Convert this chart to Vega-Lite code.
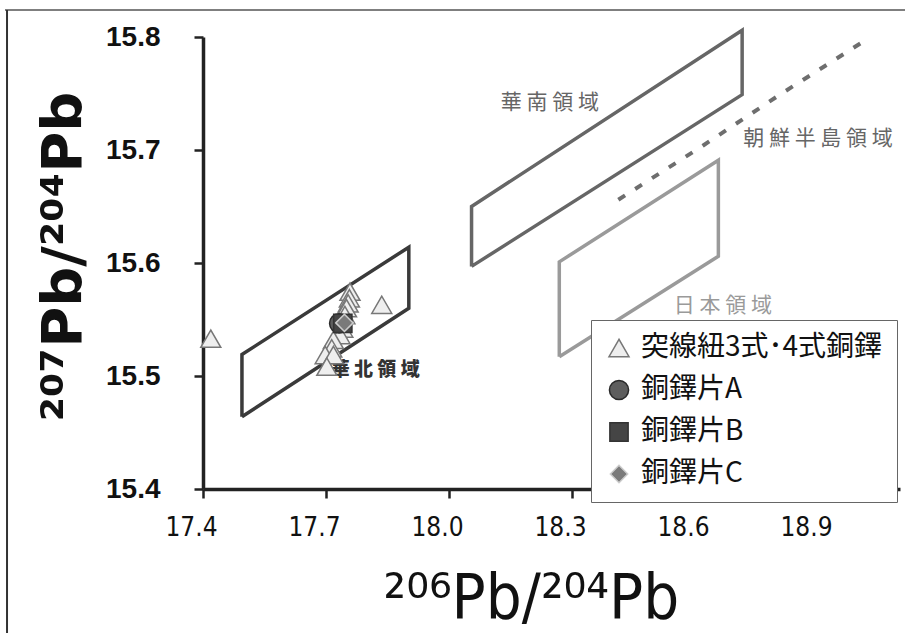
{
  "$schema": "https://vega.github.io/schema/vega-lite/v6.json",
  "autosize": {"type": "none"},
  "width": 697,
  "height": 452,
  "padding": {"left": 203, "top": 37, "right": 5, "bottom": 144},
  "background": "white",
  "config": {
    "view": {"stroke": null},
    "axis": {"grid": false}
  },
  "datasets": {
    "pts": [
      {"x": 17.419, "y": 15.533, "type": "突線紐3式･4式銅鐸"},
      {"x": 17.836, "y": 15.563, "type": "突線紐3式･4式銅鐸"},
      {"x": 17.7585, "y": 15.5746, "type": "突線紐3式･4式銅鐸"},
      {"x": 17.757, "y": 15.5688, "type": "突線紐3式･4式銅鐸"},
      {"x": 17.754, "y": 15.5643, "type": "突線紐3式･4式銅鐸"},
      {"x": 17.750, "y": 15.560, "type": "突線紐3式･4式銅鐸"},
      {"x": 17.746, "y": 15.554, "type": "突線紐3式･4式銅鐸"},
      {"x": 17.741, "y": 15.542, "type": "突線紐3式･4式銅鐸"},
      {"x": 17.734, "y": 15.5363, "type": "突線紐3式･4式銅鐸"},
      {"x": 17.718, "y": 15.5319, "type": "突線紐3式･4式銅鐸"},
      {"x": 17.714, "y": 15.5245, "type": "突線紐3式･4式銅鐸"},
      {"x": 17.698, "y": 15.5186, "type": "突線紐3式･4式銅鐸"},
      {"x": 17.718, "y": 15.5186, "type": "突線紐3式･4式銅鐸"},
      {"x": 17.702, "y": 15.5083, "type": "突線紐3式･4式銅鐸"},
      {"x": 17.732, "y": 15.5466, "type": "銅鐸片A"},
      {"x": 17.741, "y": 15.5466, "type": "銅鐸片B"},
      {"x": 17.745, "y": 15.547, "type": "銅鐸片C"}
    ],
    "regions": [
      {"region": "華北", "i": 0, "x": 17.495, "y": 15.464},
      {"region": "華北", "i": 1, "x": 17.495, "y": 15.519},
      {"region": "華北", "i": 2, "x": 17.902, "y": 15.614},
      {"region": "華北", "i": 3, "x": 17.902, "y": 15.560},
      {"region": "華北", "i": 4, "x": 17.495, "y": 15.464},
      {"region": "華南", "i": 0, "x": 18.055, "y": 15.597},
      {"region": "華南", "i": 1, "x": 18.055, "y": 15.650},
      {"region": "華南", "i": 2, "x": 18.715, "y": 15.806},
      {"region": "華南", "i": 3, "x": 18.715, "y": 15.749},
      {"region": "華南", "i": 4, "x": 18.055, "y": 15.597},
      {"region": "日本", "i": 0, "x": 18.269, "y": 15.517},
      {"region": "日本", "i": 1, "x": 18.269, "y": 15.601},
      {"region": "日本", "i": 2, "x": 18.657, "y": 15.691},
      {"region": "日本", "i": 3, "x": 18.657, "y": 15.606},
      {"region": "日本", "i": 4, "x": 18.269, "y": 15.517}
    ],
    "korea": [
      {"i": 0, "x": 18.413, "y": 15.656},
      {"i": 1, "x": 18.620, "y": 15.704},
      {"i": 2, "x": 18.807, "y": 15.749},
      {"i": 3, "x": 19.015, "y": 15.797}
    ],
    "labels": [
      {"label": "華 南 領 域", "x": 18.246, "y": 15.742, "kind": "mid"},
      {"label": "朝 鮮 半 島 領 域", "x": 18.900, "y": 15.710, "kind": "mid"},
      {"label": "日 本 領 域", "x": 18.668, "y": 15.562, "kind": "light"},
      {"label": "華 北 領 域", "x": 17.820, "y": 15.505, "kind": "bold"}
    ]
  },
  "layer": [
    {
      "data": {"values": [{"a": 1}]},
      "mark": {"type": "rule", "color": "#555555", "strokeWidth": 1.5},
      "encoding": {
        "x": {"datum": 16.917, "type": "quantitative", "scale": {"domain": [17.4, 19.1], "nice": false, "zero": false}},
        "x2": {"datum": 19.2},
        "y": {"datum": 15.824, "type": "quantitative"}
      }
    },
    {
      "data": {"values": [{"a": 1}]},
      "mark": {"type": "rule", "color": "#333333", "strokeWidth": 2},
      "encoding": {
        "x": {"datum": 16.922, "type": "quantitative"},
        "y": {"datum": 15.824, "type": "quantitative"},
        "y2": {"datum": 15.2}
      }
    },
    {
      "data": {"name": "regions"},
      "transform": [{"filter": "datum.region === '華北'"}],
      "mark": {"type": "line", "stroke": "#3a3a3a", "strokeWidth": 3.5, "strokeJoin": "miter"},
      "encoding": {
        "x": {"field": "x", "type": "quantitative"},
        "y": {"field": "y", "type": "quantitative"},
        "order": {"field": "i"}
      }
    },
    {
      "data": {"name": "regions"},
      "transform": [{"filter": "datum.region === '華南'"}],
      "mark": {"type": "line", "stroke": "#666666", "strokeWidth": 3.5, "strokeJoin": "miter"},
      "encoding": {
        "x": {"field": "x", "type": "quantitative"},
        "y": {"field": "y", "type": "quantitative"},
        "order": {"field": "i"}
      }
    },
    {
      "data": {"name": "regions"},
      "transform": [{"filter": "datum.region === '日本'"}],
      "mark": {"type": "line", "stroke": "#9a9a9a", "strokeWidth": 3.5, "strokeJoin": "miter"},
      "encoding": {
        "x": {"field": "x", "type": "quantitative"},
        "y": {"field": "y", "type": "quantitative"},
        "order": {"field": "i"}
      }
    },
    {
      "data": {"name": "korea"},
      "mark": {"type": "line", "stroke": "#6e6e6e", "strokeWidth": 4, "strokeDash": [8, 12]},
      "encoding": {
        "x": {"field": "x", "type": "quantitative"},
        "y": {"field": "y", "type": "quantitative"},
        "order": {"field": "i"}
      }
    },
    {
      "data": {"name": "labels"},
      "transform": [{"filter": "datum.kind === 'mid'"}],
      "mark": {"type": "text", "font": "Noto Sans CJK JP", "fontSize": 21, "color": "#666666"},
      "encoding": {
        "x": {"field": "x", "type": "quantitative"},
        "y": {"field": "y", "type": "quantitative"},
        "text": {"field": "label"}
      }
    },
    {
      "data": {"name": "labels"},
      "transform": [{"filter": "datum.kind === 'light'"}],
      "mark": {"type": "text", "font": "Noto Sans CJK JP", "fontSize": 21, "color": "#9a9a9a"},
      "encoding": {
        "x": {"field": "x", "type": "quantitative"},
        "y": {"field": "y", "type": "quantitative"},
        "text": {"field": "label"}
      }
    },
    {
      "data": {"name": "labels"},
      "transform": [{"filter": "datum.kind === 'bold'"}],
      "mark": {"type": "text", "font": "Noto Sans CJK JP", "fontSize": 19, "fontWeight": 900, "color": "#333333"},
      "encoding": {
        "x": {"field": "x", "type": "quantitative"},
        "y": {"field": "y", "type": "quantitative"},
        "text": {"field": "label"}
      }
    },
    {
      "data": {"name": "pts"},
      "mark": {"type": "point", "filled": true, "opacity": 1, "strokeWidth": 1.5},
      "encoding": {
        "x": {
          "field": "x", "type": "quantitative",
          "scale": {"domain": [17.4, 19.1], "nice": false, "zero": false},
          "axis": {
            "values": [17.4, 17.7, 18.0, 18.3, 18.6, 18.9],
            "format": ".1f",
            "title": "²⁰⁶Pb/²⁰⁴Pb",
            "titleFont": "DejaVu Sans Condensed",
            "titleFontSize": 63,
            "titleFontWeight": "normal",
            "titleColor": "#111111",
            "titleAnchor": "start",
            "titleAlign": "left",
            "titleBaseline": "alphabetic",
            "titleX": 180,
            "titleY": 128,
            "labelFont": "DejaVu Sans Condensed",
            "labelFontSize": 26,
            "labelColor": "#111111",
            "labelPadding": 16,
            "labelOffset": -12,
            "labelFlush": false,
            "domainColor": "#222222",
            "domainWidth": 3.5,
            "tickColor": "#222222",
            "tickWidth": 2.5,
            "tickSize": 9,
            "encode": {"ticks": {"update": {"y": {"value": 0}, "y2": {"value": -9}}}}
          }
        },
        "y": {
          "field": "y", "type": "quantitative",
          "scale": {"domain": [15.4, 15.8], "nice": false, "zero": false},
          "axis": {
            "values": [15.4, 15.5, 15.6, 15.7, 15.8],
            "format": ".1f",
            "title": "²⁰⁷Pb/²⁰⁴Pb",
            "titleFont": "DejaVu Sans",
            "titleFontSize": 56,
            "titleFontWeight": "bold",
            "titleColor": "#111111",
            "titleAngle": -90,
            "titleAlign": "center",
            "titleBaseline": "alphabetic",
            "titleX": -123,
            "titleY": 219,
            "labelFont": "Liberation Sans",
            "labelFontWeight": "bold",
            "labelFontSize": 28,
            "labelColor": "#111111",
            "labelPadding": 34,
            "labelFlush": false,
            "domainColor": "#222222",
            "domainWidth": 3.5,
            "tickColor": "#222222",
            "tickWidth": 2.5,
            "tickSize": 9,
            "encode": {"ticks": {"update": {"x": {"value": 0}, "x2": {"value": 9}}}}
          }
        },
        "shape": {
          "field": "type", "type": "nominal",
          "scale": {"domain": ["突線紐3式･4式銅鐸", "銅鐸片A", "銅鐸片B", "銅鐸片C"], "range": ["triangle-up", "circle", "square", "diamond"]},
          "legend": {
            "title": null,
            "orient": "none",
            "legendX": 388,
            "legendY": 283,
            "fillColor": "white",
            "strokeColor": "#666666",
            "padding": 14,
            "labelFont": "Noto Sans CJK JP",
            "labelFontSize": 28,
            "labelColor": "#111111",
            "labelLimit": 400,
            "labelOffset": 8,
            "rowPadding": 14,
            "symbolStrokeWidth": 1.5,
            "zindex": 2
          }
        },
        "fill": {
          "field": "type", "type": "nominal",
          "scale": {"domain": ["突線紐3式･4式銅鐸", "銅鐸片A", "銅鐸片B", "銅鐸片C"], "range": ["#eeeeee", "#5e5e5e", "#454545", "#7a7a7a"]},
          "legend": {"title": null, "orient": "none", "legendX": 388, "legendY": 283}
        },
        "stroke": {
          "field": "type", "type": "nominal",
          "scale": {"domain": ["突線紐3式･4式銅鐸", "銅鐸片A", "銅鐸片B", "銅鐸片C"], "range": ["#777777", "#2a2a2a", "#333333", "#cccccc"]},
          "legend": {"title": null, "orient": "none", "legendX": 388, "legendY": 283}
        },
        "size": {
          "field": "type", "type": "nominal",
          "scale": {"domain": ["突線紐3式･4式銅鐸", "銅鐸片A", "銅鐸片B", "銅鐸片C"], "range": [400, 300, 380, 300]},
          "legend": {"title": null, "orient": "none", "legendX": 388, "legendY": 283}
        }
      }
    }
  ]
}
